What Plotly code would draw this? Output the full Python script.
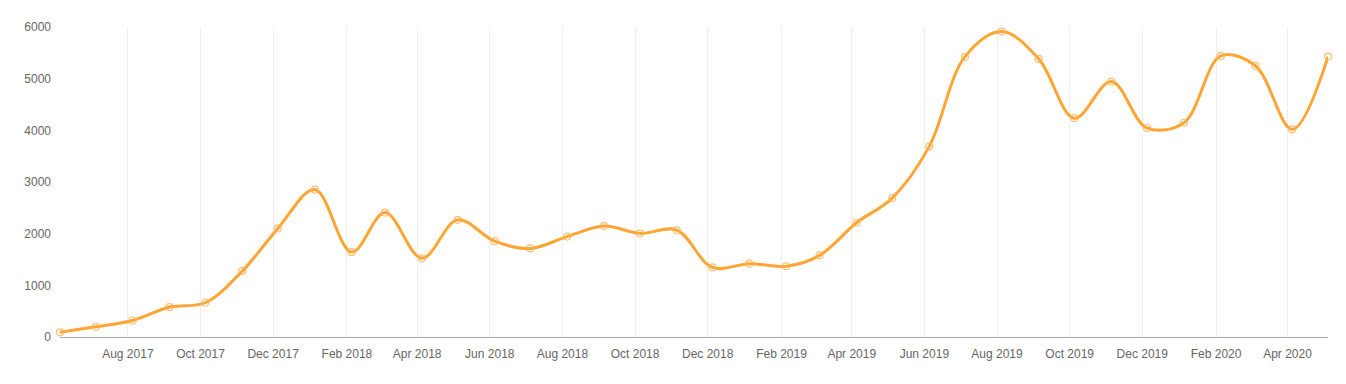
import plotly.graph_objects as go

months = [
    "2017-06-05", "2017-07-05", "2017-08-05", "2017-09-05", "2017-10-05", "2017-11-05",
    "2017-12-05", "2018-01-05", "2018-02-05", "2018-03-05", "2018-04-05", "2018-05-05",
    "2018-06-05", "2018-07-05", "2018-08-05", "2018-09-05", "2018-10-05", "2018-11-05",
    "2018-12-05", "2019-01-05", "2019-02-05", "2019-03-05", "2019-04-05", "2019-05-05",
    "2019-06-05", "2019-07-05", "2019-08-05", "2019-09-05", "2019-10-05", "2019-11-05",
    "2019-12-05", "2020-01-05", "2020-02-05", "2020-03-05", "2020-04-05", "2020-05-05",
]
values = [
    90, 197, 319, 579, 663, 1274,
    2102, 2853, 1643, 2408, 1523, 2268,
    1854, 1714, 1943, 2146, 2006, 2070,
    1347, 1420, 1369, 1580, 2211, 2689,
    3685, 5421, 5911, 5383, 4236, 4944,
    4045, 4147, 5441, 5249, 4019, 5427,
]
y_ticks = [0, 1000, 2000, 3000, 4000, 5000, 6000]

line_color = "#FFA534"
font = dict(family="Liberation Sans, Arial, sans-serif", size=12, color="#666666")

fig = go.Figure()
fig.add_trace(go.Scatter(
    x=months, y=values, mode="lines+markers",
    line=dict(color=line_color, width=3, shape="spline", smoothing=1),
    marker=dict(symbol="circle-open", size=7, color="rgba(255,180,90,0.85)",
                line=dict(width=1.2)),
    hoverinfo="x+y", showlegend=False, cliponaxis=False,
))

fig.update_layout(
    width=1338, height=376,
    margin=dict(l=52, r=18, t=15, b=47),
    paper_bgcolor="white", plot_bgcolor="white",
    font=font,
    xaxis=dict(
        range=[months[0], months[-1]],
        tickformat="%b %Y", dtick="M2", tick0="2017-08-01",
        showgrid=True, gridcolor="#eeeeee", gridwidth=1,
        showline=True, linecolor="#aaaaaa", linewidth=1,
        ticks="", zeroline=False, ticklabelstandoff=6,
    ),
    yaxis=dict(
        range=[0, 6000], tickvals=y_ticks, tickformat="d",
        showgrid=False, zeroline=False, showline=False,
        ticks="", ticklabelstandoff=8,
    ),
)

fig.write_html("out.html")
